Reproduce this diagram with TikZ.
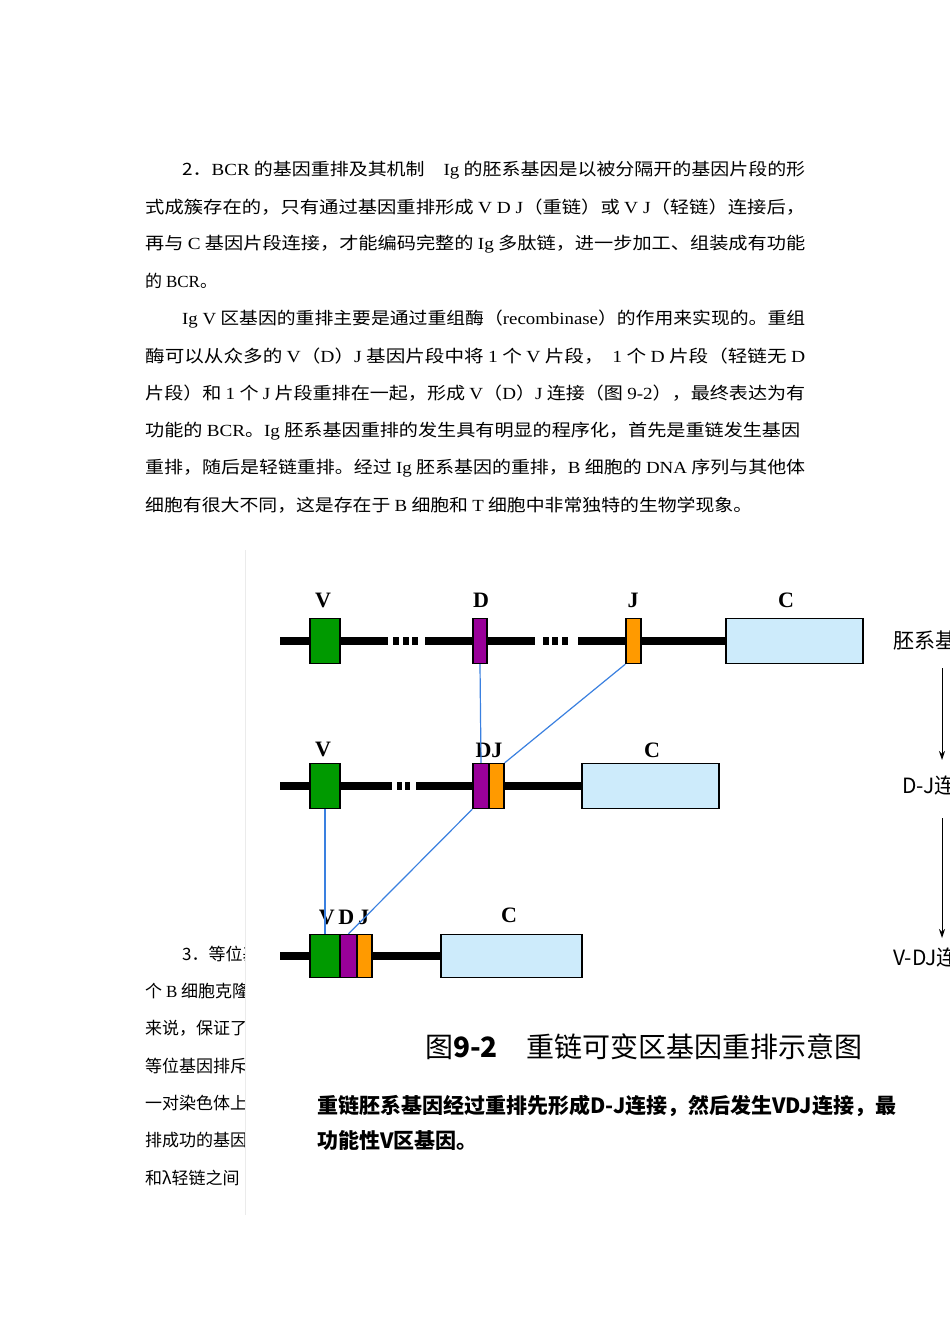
\documentclass[tikz,border=0pt]{standalone}
\usepackage{fontspec}
\usetikzlibrary{arrows.meta}
\setmainfont{Liberation Serif}
\newfontfamily\cjk{Noto Sans CJK SC}
\newfontfamily\lat{Liberation Serif}
\newlength\tw
\newcommand\fitline[2]{\settowidth\tw{#2}\pgfmathsetmacro\sc{#1/\tw}\scalebox{\sc}[1]{#2}}
\definecolor{gr}{HTML}{009A00}
\definecolor{pu}{HTML}{990099}
\definecolor{orr}{HTML}{FF9A00}
\definecolor{lb}{HTML}{CDEBFB}
\definecolor{bl}{HTML}{3A80E0}
\begin{document}
\begin{tikzpicture}[x=1pt,y=-1pt,
  body/.style={anchor=west,inner sep=0,font=\cjk\fontsize{17}{17}\selectfont},
  seg/.style={draw,line width=1.4pt,inner sep=0,minimum height=45pt},
  lbl/.style={font=\lat\bfseries\fontsize{22}{22}\selectfont,inner sep=0},
  side/.style={font=\cjk\fontsize{21}{21}\selectfont,anchor=west,inner sep=0},
  bb/.style={line width=8pt},
  link/.style={bl,line width=1.2pt}]
\useasboundingbox[fill=white] (0,0) rectangle (950,1344);
% body text
\node[body] (t1) at (182,170) {\fitline{623}{2．{\lat BCR} 的基因重排及其机制\quad {\lat Ig} 的胚系基因是以被分隔开的基因片段的形}};
\node[body] (t2) at (145,207) {\fitline{660}{式成簇存在的，只有通过基因重排形成 {\lat V D J}（重链）或 {\lat V J}（轻链）连接后，}};
\node[body] (t3) at (145,244) {\fitline{660}{再与 {\lat C} 基因片段连接，才能编码完整的 {\lat Ig} 多肽链，进一步加工、组装成有功能}};
\node[body] (t4) at (145,281) {的 {\lat BCR}。};
\node[body] (t5) at (182,319) {\fitline{623}{{\lat Ig V} 区基因的重排主要是通过重组酶（{\lat recombinase}）的作用来实现的。重组}};
\node[body] (t6) at (145,356) {\fitline{660}{酶可以从众多的 {\lat V}（{\lat D}）{\lat J} 基因片段中将 {\lat 1} 个 {\lat V} 片段，\ \ {\lat 1} 个 {\lat D} 片段（轻链无 {\lat D}}};
\node[body] (t7) at (145,393) {\fitline{660}{片段）和 {\lat 1} 个 {\lat J} 片段重排在一起，形成 {\lat V}（{\lat D}）{\lat J} 连接（图 {\lat 9-2}），最终表达为有}};
\node[body] (t8) at (145,431) {\fitline{655}{功能的 {\lat BCR}。{\lat Ig} 胚系基因重排的发生具有明显的程序化，首先是重链发生基因}};
\node[body] (t9) at (145,468) {\fitline{660}{重排，随后是轻链重排。经过 {\lat Ig} 胚系基因的重排，{\lat B} 细胞的 {\lat DNA} 序列与其他体}};
\node[body] (t10) at (145,505) {\fitline{607}{细胞有很大不同，这是存在于 {\lat B} 细胞和 {\lat T} 细胞中非常独特的生物学现象。}};
\node[body] (s1) at (182,954) {3．等位基因};
\node[body] (s2) at (145,991) {个 {\lat B} 细胞克隆};
\node[body] (s3) at (145,1028) {来说，保证了};
\node[body] (s4) at (145,1066) {等位基因排斥};
\node[body] (s5) at (145,1103) {一对染色体上};
\node[body] (s6) at (145,1140) {排成功的基因};
\node[body] (s7) at (145,1178) {和λ轻链之间};
% figure panel
\fill[white] (245,550) rectangle (950,1215);
\draw[black!8,line width=0.6pt] (245,550) -- (245,1215);
% backbones
\draw[bb] (280,641) -- (388,641) (425,641) -- (535,641) (578,641) -- (726,641);
\foreach \a in {393,403,412,543,552,562} \draw[bb] (\a,641) -- (\a+6,641);
\draw[bb] (280,786) -- (392,786) (416,786) -- (582,786);
\foreach \a in {397,405} \draw[bb] (\a,786) -- (\a+5,786);
\draw[bb] (280,956) -- (441,956);
% row 1
\node[seg,fill=gr,minimum width=30pt] (V1) at (325,641) {};
\node[seg,fill=pu,minimum width=14pt] (D1) at (480,641) {};
\node[seg,fill=orr,minimum width=15pt] (J1) at (633.5,641) {};
\node[seg,fill=lb,minimum width=137pt] (C1) at (794.5,641) {};
% row 2
\node[seg,fill=gr,minimum width=30pt] (V2) at (325,786) {};
\node[seg,fill=pu,minimum width=16pt] (D2) at (481,786) {};
\node[seg,fill=orr,minimum width=15pt] (J2) at (496.5,786) {};
\node[seg,fill=lb,minimum width=137pt] (C2) at (650.5,786) {};
% row 3
\node[seg,fill=gr,minimum width=30pt,minimum height=43pt] (V3) at (325,956) {};
\node[seg,fill=pu,minimum width=17pt,minimum height=43pt] (D3) at (348.5,956) {};
\node[seg,fill=orr,minimum width=15pt,minimum height=43pt] (J3) at (364.5,956) {};
\node[seg,fill=lb,minimum width=141pt,minimum height=43pt] (C3) at (511.5,956) {};
% labels
\node[lbl] (lV1) at (323,600) {V};
\node[lbl] (lD1) at (481,600) {D};
\node[lbl] (lJ1) at (633,600) {J};
\node[lbl] (lC1) at (786,600) {C};
\node[lbl] (lV2) at (323,749) {V};
\node[lbl] (lDJ2) at (489,750) {DJ};
\node[lbl] (lC2) at (652,750) {C};
\node[lbl] (lVDJ3) at (344,917) {V\,D\,J};
\node[lbl] (lC3) at (509,915) {C};
% links
\draw[link] (D1.south) -- (D2.north);
\draw[link] (J1.south west) -- (J2.north east);
\draw[link] (D2.south west) -- (D3.north);
\draw[link] (V2.south) -- (V3.north);
% right side
\node[side] (r1) at (893,641) {胚系基因};
\node[side] (r2) at (902,786) {D-J连接};
\node[side] (r3) at (893,958) {V-DJ连接};
\draw[-{Stealth[length=9pt,width=6pt]},line width=1pt] (942,668) -- (942,760);
\draw[-{Stealth[length=9pt,width=6pt]},line width=1pt] (942,818) -- (942,938);
% caption
\node[anchor=west,inner sep=0,font=\cjk\fontsize{28}{28}\selectfont] (cap) at (425,1047) {图\textbf{9-2}\quad 重链可变区基因重排示意图};
\node[anchor=west,inner sep=0,font=\cjk\bfseries\fontsize{21}{21}\selectfont] (d1) at (317,1106) {重链胚系基因经过重排先形成D-J连接，然后发生VDJ连接，最};
\node[anchor=west,inner sep=0,font=\cjk\bfseries\fontsize{21}{21}\selectfont] (d2) at (317,1140) {功能性V区基因。};
\end{tikzpicture}
\end{document}
